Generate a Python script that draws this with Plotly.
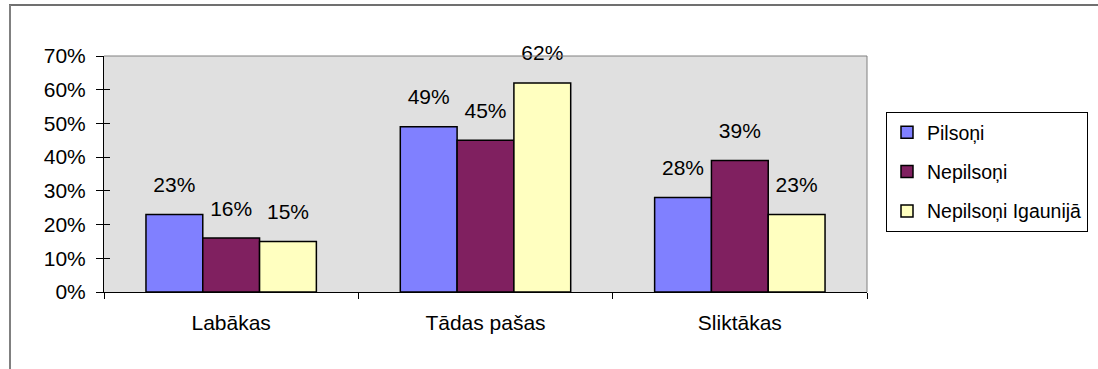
import plotly.graph_objects as go

categories = ["Labākas", "Tādas pašas", "Sliktākas"]
series_names = ["Pilsoņi", "Nepilsoņi", "Nepilsoņi Igaunijā"]
pilsoni = [0.23, 0.49, 0.28]
nepilsoni = [0.16, 0.45, 0.39]
nepilsoni_igaunija = [0.15, 0.62, 0.23]
colors = ["#8080FF", "#802060", "#FFFFC0"]

W, H = 1098, 369
L, R, T, B = 104, 231, 56, 77
FONT = "Arial, Liberation Sans, sans-serif"
FS = 21
BARGAP = 0.33

fig = go.Figure()
all_vals = [pilsoni, nepilsoni, nepilsoni_igaunija]
for i, (name, vals) in enumerate(zip(series_names, all_vals)):
    fig.add_trace(go.Bar(
        x=categories, y=vals, name=name, legendgroup=f"g{i}",
        marker=dict(color=colors[i], line=dict(color="black", width=1.5)),
        hoverinfo="skip",
    ))
for i, (name, vals) in enumerate(zip(series_names, all_vals)):
    fig.add_trace(go.Scatter(
        x=categories, y=vals, name=name + " labels", mode="markers+text",
        marker=dict(size=26, opacity=0), showlegend=False,
        text=[f"{v:.0%}" for v in vals], textposition="top center",
        textfont=dict(size=FS, color="black", family=FONT),
        cliponaxis=False, hoverinfo="skip",
    ))

pw = W - L - R
ph = H - T - B
def px_x(p):
    return (p - L) / pw
def px_y(p):
    return (H - B - p) / ph

fig.update_layout(
    width=W, height=H,
    margin=dict(l=L, r=R, t=T, b=B, pad=0, autoexpand=False),
    paper_bgcolor="white", plot_bgcolor="#E0E0E0",
    barmode="group", bargap=BARGAP, bargroupgap=0,
    scattermode="group", scattergap=BARGAP,
    font=dict(family=FONT, size=FS, color="black"),
    showlegend=True,
    legend=dict(
        x=px_x(886), y=px_y(112), xanchor="left", yanchor="top",
        bgcolor="white", bordercolor="black", borderwidth=1,
        font=dict(size=19.5, family=FONT, color="black"),
        tracegroupgap=11, itemwidth=30,
    ),
    xaxis=dict(
        showline=True, linecolor="black", linewidth=1,
        ticks="outside", ticklen=6, tickcolor="black", tickson="boundaries",
        tickfont=dict(size=FS), ticklabelstandoff=12,
    ),
    yaxis=dict(
        range=[0, 0.7], dtick=0.1, tickformat=".0%",
        showline=True, linecolor="black", linewidth=1,
        ticks="outside", ticklen=7, tickcolor="black",
        showgrid=False, zeroline=False,
        tickfont=dict(size=FS), ticklabelstandoff=6,
    ),
    yaxis2=dict(
        range=[0, 0.7], dtick=0.1, overlaying="y", side="left",
        ticks="inside", ticklen=6, tickcolor="black",
        showticklabels=False, showgrid=False, zeroline=False, showline=False,
    ),
    shapes=[
        dict(type="line", xref="paper", yref="paper", x0=0, x1=1, y0=1, y1=1,
             line=dict(color="#808080", width=1)),
        dict(type="line", xref="paper", yref="paper", x0=1, x1=1, y0=0, y1=1,
             line=dict(color="#808080", width=1)),
        dict(type="line", xref="paper", yref="paper", x0=px_x(9), x1=px_x(1200),
             y0=px_y(5), y1=px_y(5), line=dict(color="#404040", width=1.5)),
        dict(type="line", xref="paper", yref="paper", x0=px_x(10), x1=px_x(10),
             y0=px_y(5), y1=px_y(400), line=dict(color="#808080", width=2)),
    ],
)
fig.add_trace(go.Scatter(x=[categories[0]], y=[0], yaxis="y2", mode="markers",
                         marker=dict(opacity=0), showlegend=False, hoverinfo="skip"))

fig.write_html("out.html", config={"displayModeBar": False},
               post_script="document.body.style.margin='0';document.body.style.overflow='hidden';")
